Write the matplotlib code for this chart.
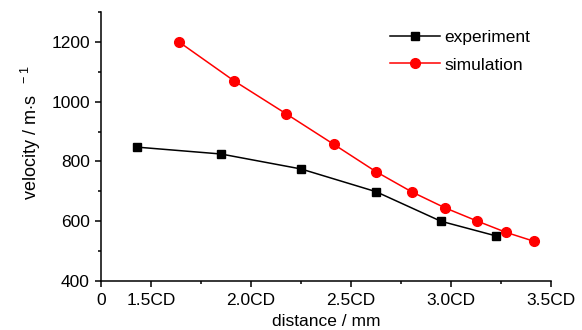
"""Velocity vs distance: experiment and simulation"""

import matplotlib.pyplot as plt
from matplotlib.ticker import FixedLocator

plt.rcParams["font.family"] = ["Liberation Sans", "DejaVu Sans"]
plt.rcParams["mathtext.fontset"] = "custom"
plt.rcParams["mathtext.rm"] = "Liberation Sans"
plt.rcParams["mathtext.it"] = "Liberation Sans"

# Data (distance in units of CD)
exp_dist = [1.43, 1.85, 2.25, 2.625, 2.95, 3.225]
exp_vel = [848, 825, 775, 699, 600, 551]
sim_dist = [1.64, 1.915, 2.175, 2.415, 2.625, 2.805, 2.97, 3.13, 3.275, 3.415]
sim_vel = [1200, 1070, 960, 857, 766, 698, 645, 601, 563, 533]

x_ticks = [1.25, 1.5, 2.0, 2.5, 3.0, 3.5]
x_labels = ["0", "1.5CD", "2.0CD", "2.5CD", "3.0CD", "3.5CD"]
y_ticks = [400, 600, 800, 1000, 1200]

fig = plt.figure(figsize=(5.82, 3.3), dpi=100)
ax = fig.add_axes([0.1735, 0.1485, 0.773, 0.815])

ax.plot(exp_dist, exp_vel, color="black", linewidth=1.1, marker="s",
        markersize=5.8, label="experiment")
ax.plot(sim_dist, sim_vel, color="red", linewidth=1.1, marker="o",
        markersize=7, label="simulation")

ax.set_xlim(1.25, 3.5)
ax.set_ylim(400, 1300)
ax.set_xticks(x_ticks)
ax.set_xticklabels(x_labels)
ax.set_yticks(y_ticks)
ax.xaxis.set_minor_locator(FixedLocator([1.75, 2.25, 2.75, 3.25]))
ax.yaxis.set_minor_locator(FixedLocator([500, 700, 900, 1100, 1300]))

for side in ["top", "right"]:
    ax.spines[side].set_visible(False)
for side in ["left", "bottom"]:
    ax.spines[side].set_linewidth(1.1)

ax.tick_params(which="major", direction="out", length=4, width=1.1,
               labelsize=12.5)
ax.tick_params(axis="x", which="major", pad=5)
ax.tick_params(axis="y", which="major", pad=4)
ax.tick_params(which="minor", direction="out", length=2.5, width=1.1)

ax.set_xlabel("distance / mm", fontsize=12.5, labelpad=4)
ax.set_ylabel(r"velocity / m$\cdot$s$^{\quad-1}$", fontsize=13)
ax.yaxis.set_label_coords(-0.128, 0.55)

ax.legend(loc="upper left", bbox_to_anchor=(0.642, 0.935), frameon=False,
          fontsize=12.5, borderaxespad=0, borderpad=0, handlelength=2.9,
          handletextpad=0.25, labelspacing=0.73)

plt.savefig("out.png", dpi=100)
